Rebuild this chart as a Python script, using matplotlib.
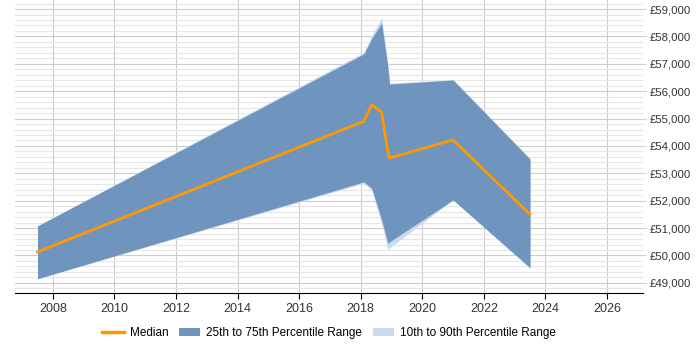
import matplotlib
matplotlib.use("Agg")
import matplotlib.pyplot as plt
from matplotlib.lines import Line2D
from matplotlib.patches import Patch
from matplotlib.ticker import MultipleLocator, FuncFormatter

plt.rcParams["font.family"] = ["Liberation Sans", "DejaVu Sans"]

# decimal years of each sample
years = [2007.5, 2018.1, 2018.36, 2018.68, 2018.88, 2018.94, 2021.0, 2023.5]
median = [50130, 54900, 55500, 55230, 53800, 53560, 54220, 51500]
p25 = [49150, 52690, 52450, 51300, 50460, 50500, 52030, 49550]
p75 = [51080, 57360, 57930, 58490, 56900, 56260, 56410, 53525]
p10 = [49150, 52640, 52380, 51150, 50220, 50280, 52030, 49550]
p90 = [51080, 57420, 58030, 58670, 57000, 56290, 56420, 53525]

dark = "#6f95be"
light = "#c9daee"
orange = "#ff9900"

fig = plt.figure(figsize=(7, 3.5), dpi=100)
ax = fig.add_axes([15 / 700, 1 - 293 / 350, 628 / 700, 293 / 350])

ax.fill_between(years, p10, p90, color=light, lw=0, zorder=2)
ax.fill_between(years, p25, p75, color=dark, lw=0, zorder=3)
ax.plot(years, median, color=orange, lw=2, zorder=4)

ax.set_xlim(2006.77, 2027.17)
ax.set_ylim(48630, 59330)
ax.xaxis.set_major_locator(MultipleLocator(2))
ax.yaxis.set_major_locator(MultipleLocator(1000))
ax.yaxis.set_minor_locator(MultipleLocator(200))
ax.yaxis.set_major_formatter(FuncFormatter(lambda v, p: "£{:,.0f}".format(v)))
ax.yaxis.tick_right()

ax.grid(axis="x", color="#cccccc", lw=0.8, zorder=1)
ax.grid(axis="y", which="major", color="#cccccc", lw=0.8, zorder=1)
ax.grid(axis="y", which="minor", color="#e6e6e6", lw=0.8, zorder=1)

for s in ["top", "right", "left"]:
    ax.spines[s].set_visible(False)
ax.spines["bottom"].set_color("black")
ax.tick_params(axis="y", which="minor", length=0)
ax.tick_params(axis="y", which="major", length=2, color="#cccccc", pad=3,
               labelsize=8.2, labelcolor="#333333")
ax.tick_params(axis="x", length=4, labelsize=9, color="black", labelcolor="#333333")

handles = [
    Line2D([0], [0], color=orange, lw=2.5),
    Patch(facecolor=dark, edgecolor="none"),
    Patch(facecolor=light, edgecolor="none"),
]
labels = ["Median", "25th to 75th Percentile Range", "10th to 90th Percentile Range"]
fig.legend(handles, labels, loc="center", bbox_to_anchor=(329 / 700, 1 - 333 / 350),
           ncol=3, frameon=False, fontsize=8.5, handlelength=1.8, columnspacing=0.9,
           handletextpad=0.5)

fig.savefig("out.png", dpi=100)
